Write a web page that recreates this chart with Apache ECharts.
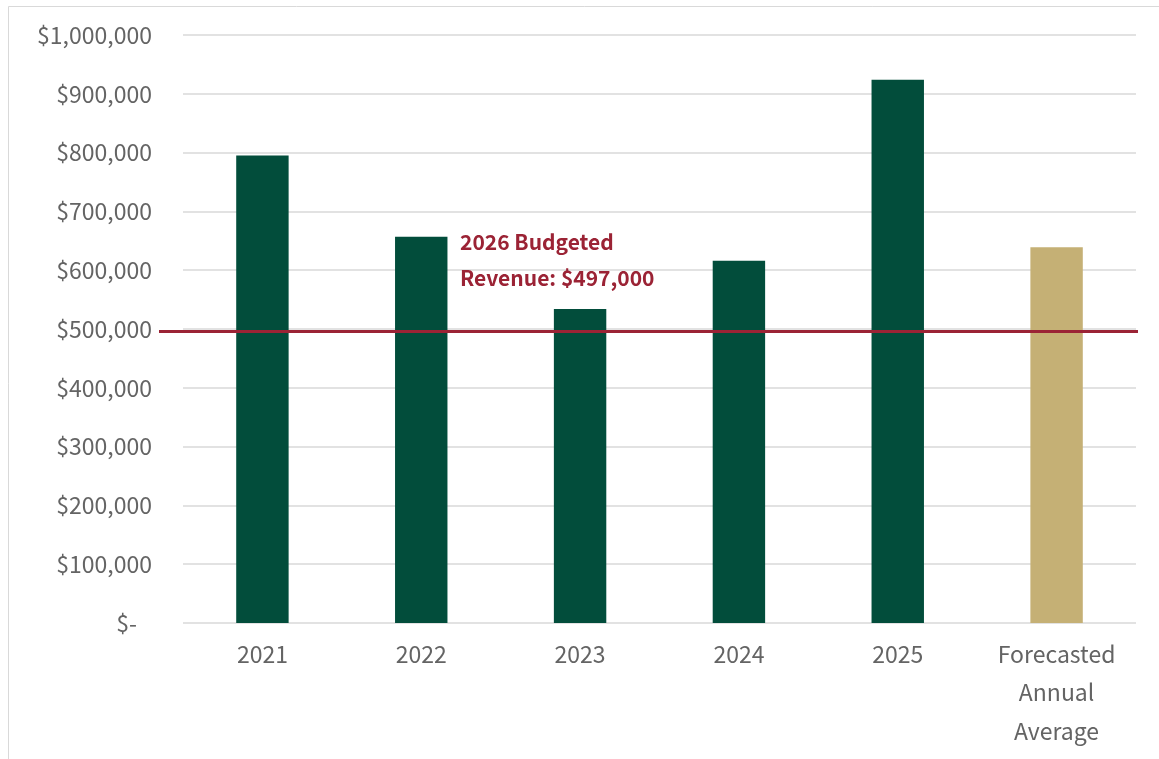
<!DOCTYPE html>
<html>
<head>
<meta charset="utf-8">
<script src="https://cdn.jsdelivr.net/npm/echarts@6/dist/echarts.min.js"></script>
<style>
  html, body { margin: 0; padding: 0; background: #ffffff; }
  #chart { width: 1159px; height: 759px; }
</style>
</head>
<body>
<div id="chart"></div>
<script>
// Annual revenue by year, plus the forecasted annual average
const categories = ['2021', '2022', '2023', '2024', '2025', 'Forecasted\nAnnual\nAverage'];
const revenue = [795000, 657000, 534000, 616000, 924000, 639000];
const isForecast = [false, false, false, false, false, true];

// Budget reference line
const budgetValue = 497000;
const budgetLabel = '2026 Budgeted\nRevenue: $497,000';

// Value axis ticks
const yMin = 0;
const yMax = 1000000;
const yStep = 100000;

const GREEN = '#024d3b';
const GOLD = '#c5b075';
const RED = '#9b2335';
const GRAY_TEXT = '#646464';
const FONT = '"Noto Sans CJK JP", "Noto Sans", sans-serif';

function money(v) {
  if (v === 0) return '{z|$-}';
  return '$' + v.toLocaleString('en-US');
}

const chart = echarts.init(document.getElementById('chart'), null, { renderer: 'canvas' });

chart.setOption({
  animation: false,
  backgroundColor: '#ffffff',
  textStyle: { fontFamily: FONT },
  graphic: [{
    type: 'rect',
    silent: true,
    z: -10,
    shape: { x: 8.5, y: 6.5, width: 1300, height: 900 },
    style: { fill: 'none', stroke: '#d9d9d9', lineWidth: 1 }
  }],
  title: {
    text: budgetLabel,
    left: 460,
    top: 224,
    padding: 0,
    textStyle: {
      color: RED,
      fontFamily: FONT,
      fontWeight: 'bold',
      fontSize: 21,
      lineHeight: 36
    }
  },
  grid: { left: 183, right: 23, top: 35, bottom: 136, containLabel: false },
  xAxis: {
    type: 'category',
    data: categories,
    axisLine: { show: false },
    axisTick: { show: false },
    axisLabel: {
      color: GRAY_TEXT,
      fontFamily: FONT,
      fontSize: 23,
      lineHeight: 38.5,
      margin: 12
    }
  },
  yAxis: {
    type: 'value',
    min: yMin,
    max: yMax,
    interval: yStep,
    axisLine: { show: false },
    axisTick: { show: false },
    splitLine: { lineStyle: { color: '#d9d9d9', width: 1.5 } },
    axisLabel: {
      color: GRAY_TEXT,
      fontFamily: FONT,
      fontSize: 23,
      margin: 31,
      formatter: money,
      rich: {
        z: { color: GRAY_TEXT, fontFamily: FONT, fontSize: 23, padding: [0, 15, 0, 0] }
      }
    }
  },
  series: [{
    type: 'bar',
    barWidth: '33%',
    data: revenue.map((v, i) => ({
      value: v,
      itemStyle: { color: isForecast[i] ? GOLD : GREEN }
    })),
    markLine: {
      silent: true,
      symbol: ['none', 'none'],
      label: { show: false },
      lineStyle: { color: RED, width: 3, type: 'solid' },
      data: [[
        { yAxis: budgetValue, x: 159 },
        { yAxis: budgetValue, x: 1138 }
      ]]
    }
  }]
});
</script>
</body>
</html>
